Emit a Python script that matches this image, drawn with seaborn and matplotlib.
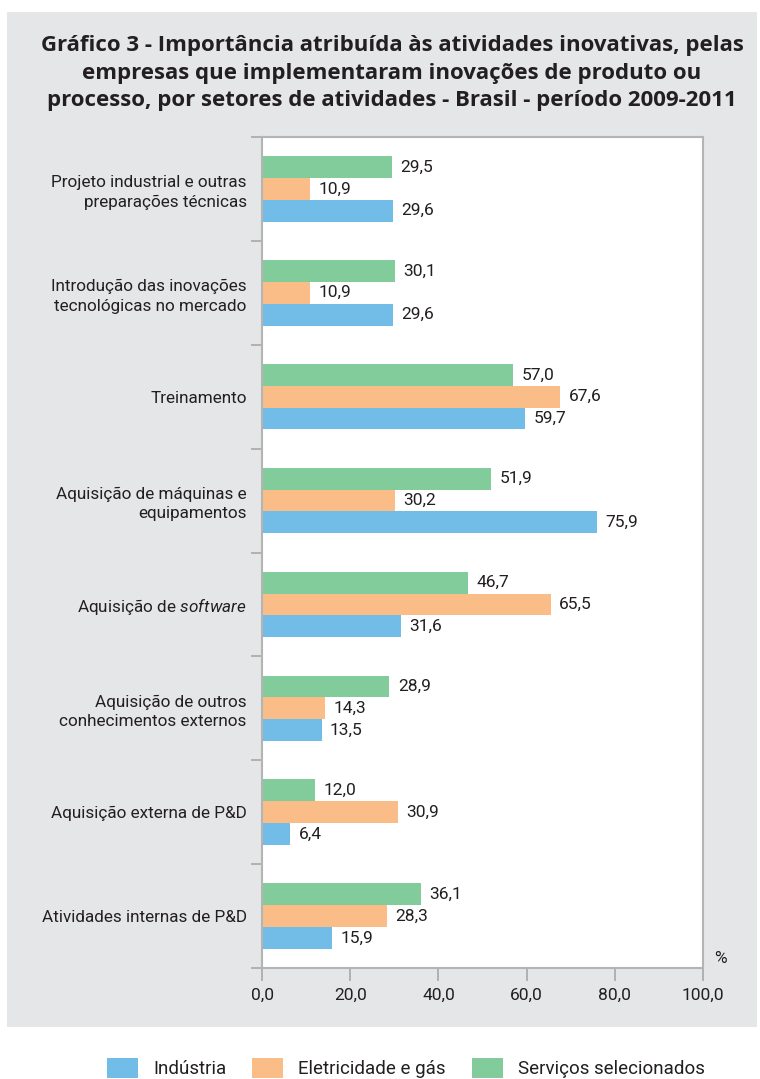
import pandas as pd
import matplotlib.pyplot as plt
import matplotlib.patches as mpatches
import seaborn as sns

categorias = [
    "Projeto industrial e outras\npreparações técnicas",
    "Introdução das inovações\ntecnológicas no mercado",
    "Treinamento",
    "Aquisição de máquinas e\nequipamentos",
    "Aquisição de $\\mathit{software}$",
    "Aquisição de outros\nconhecimentos externos",
    "Aquisição externa de P&D",
    "Atividades internas de P&D",
]
industria = [29.6, 29.6, 59.7, 75.9, 31.6, 13.5, 6.4, 15.9]
eletricidade = [10.9, 10.9, 67.6, 30.2, 65.5, 14.3, 30.9, 28.3]
servicos = [29.5, 30.1, 57.0, 51.9, 46.7, 28.9, 12.0, 36.1]
setores = ["Indústria", "Eletricidade e gás", "Serviços selecionados"]
cores = {"Indústria": "#72bce8", "Eletricidade e gás": "#fbbd87", "Serviços selecionados": "#82cc9c"}

df = pd.DataFrame({
    "categoria": categorias * 3,
    "valor": servicos + eletricidade + industria,
    "setor": [setores[2]] * 8 + [setores[1]] * 8 + [setores[0]] * 8,
})

sns.set_style("white")
plt.rcParams["font.family"] = ["Roboto", "DejaVu Sans"]
plt.rcParams["mathtext.fontset"] = "custom"
plt.rcParams["mathtext.rm"] = "Roboto"
plt.rcParams["mathtext.it"] = "Roboto:italic"
texto = "#231f20"

fig = plt.figure(figsize=(7.6, 10.79), dpi=100)
fig.patches.append(mpatches.Rectangle((7 / 760, 52 / 1079), 750 / 760, 1015 / 1079,
                                      transform=fig.transFigure, facecolor="#e5e6e8",
                                      edgecolor="none", zorder=-5))
ax = fig.add_axes([262 / 760, 111 / 1079, 441 / 760, 831 / 1079])
ax.set_facecolor("white")

sns.barplot(data=df, x="valor", y="categoria", hue="setor", orient="h",
            hue_order=[setores[2], setores[1], setores[0]], palette=cores,
            width=0.63, saturation=1, linewidth=0, edgecolor="none", ax=ax, legend=False)

for cont in ax.containers:
    ax.bar_label(cont, labels=[f"{b.get_width():.1f}".replace(".", ",") for b in cont],
                 padding=6, fontsize=12.5, color=texto)

ax.set_xlim(0, 100)
ax.set_ylim(7.5, -0.5)
ax.set_xticks(range(0, 101, 20))
ax.set_xticklabels([f"{v},0" for v in range(0, 101, 20)], fontsize=12.5, color=texto)
ax.set_yticks([i + 0.5 for i in range(-1, 8)], minor=False)
ax.set_yticklabels([""] * 9)
ax.set_yticks(range(8), minor=True)
ax.set_yticklabels(categorias, minor=True, fontsize=12.3, color=texto)
ax.tick_params(axis="y", which="minor", left=False, length=0, pad=11)
ax.tick_params(axis="y", which="major", left=True, length=8, width=1.2, color="#a8a8a8",
               direction="out")
ax.tick_params(axis="x", bottom=True, length=9, width=1.2, color="#a8a8a8", direction="out",
               pad=5)
for t in ax.yaxis.get_minor_ticks():
    t.label1.set_linespacing(1.35)
ax.set_xlabel("")
ax.set_ylabel("")
for s in ["top", "right", "left", "bottom"]:
    ax.spines[s].set_color("#b4b4b4")
    ax.spines[s].set_linewidth(1.5)

ax.text(1.04, 0.003, "%", transform=ax.transAxes, fontsize=12.5, color=texto,
        ha="center", va="bottom")

fig.text(392 / 760, 1 - 73 / 1079,
         "Gráfico 3 - Importância atribuída às atividades inovativas, pelas\n"
         "empresas que implementaram inovações de produto ou\n"
         "processo, por setores de atividades - Brasil - período 2009-2011",
         ha="center", va="center", fontsize=16, fontweight="bold", color=texto,
         family=["Open Sans", "DejaVu Sans"], linespacing=1.4)

handles = [mpatches.Patch(facecolor=cores[s], edgecolor="none") for s in setores]
fig.legend(handles, setores, loc="center", bbox_to_anchor=(406 / 760, 1 - 1068 / 1079),
           ncol=3, frameon=False, fontsize=13.5, handlelength=1.65, handleheight=1.32,
           handletextpad=0.8, columnspacing=1.4, borderpad=0, labelcolor=texto)

fig.savefig("out.png", dpi=100)
